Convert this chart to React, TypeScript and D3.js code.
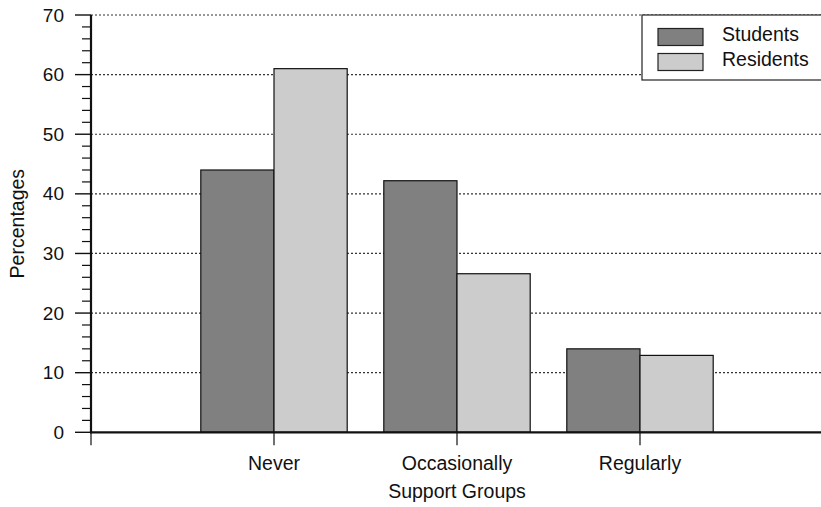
import React from "react";
import * as d3 from "d3";

const categories = ["Never", "Occasionally", "Regularly"];
const seriesNames = ["Students", "Residents"];
const students = [44.0, 42.2, 14.0];
const residents = [61.0, 26.6, 12.9];
const yTicks = [0, 10, 20, 30, 40, 50, 60, 70];
const colors = ["#808080", "#cccccc"];

const FONT = "'Liberation Sans', Arial, sans-serif";
const NARROW = "'Liberation Sans Narrow', 'Arial Narrow', sans-serif";

export default function App() {
  const W = 821, H = 507;
  const x0 = 91, x1 = 823;
  const x = d3.scaleLinear().domain([0, 4]).range([x0, x1]);
  const y = d3.scaleLinear().domain([0, 70]).range([432.3, 15]);
  const step = x(1) - x(0);
  const bw = step * 0.4;
  const minor = d3.range(0, 70, 2).filter((v) => v % 10 !== 0);
  const series = [students, residents];

  return (
    <svg width={W} height={H} style={{ position: "absolute", left: 0, top: 0, background: "#fff" }} fontFamily={FONT}>
      {/* gridlines */}
      {yTicks.filter((t) => t > 0).map((t) => (
        <line key={"g" + t} x1={x0} x2={W} y1={y(t)} y2={y(t)} stroke="#333" strokeWidth={1.2} strokeDasharray="2,2" />
      ))}
      {/* bars */}
      {series.map((vals, si) =>
        vals.map((v, ci) => {
          const cx = x(ci + 1);
          const left = si === 0 ? cx - bw : cx;
          return (
            <rect key={si + "-" + ci} x={left} y={y(v)} width={bw} height={y(0) - y(v)} fill={colors[si]} stroke="#111" strokeWidth={1.2} />
          );
        })
      )}
      {/* y axis */}
      <line x1={x0} x2={x0} y1={y(70)} y2={y(0) + 1} stroke="#111" strokeWidth={2.2} />
      {yTicks.map((t) => (
        <g key={"t" + t}>
          <line x1={75} x2={x0} y1={y(t)} y2={y(t)} stroke="#111" strokeWidth={1.4} />
          <text x={64} y={y(t)} dy="0.35em" textAnchor="end" fontSize={19} fontFamily={NARROW} fill="#111">{t}</text>
        </g>
      ))}
      {minor.map((t) => (
        <line key={"m" + t} x1={82} x2={x0} y1={y(t)} y2={y(t)} stroke="#111" strokeWidth={1.2} />
      ))}
      {/* x axis */}
      <line x1={x0 - 1} x2={W} y1={y(0)} y2={y(0)} stroke="#111" strokeWidth={2.2} />
      {[0, 1, 2, 3].map((k) => (
        <line key={"xt" + k} x1={x(k)} x2={x(k)} y1={y(0)} y2={y(0) + 13} stroke="#111" strokeWidth={1.2} />
      ))}
      {categories.map((c, i) => (
        <text key={c} x={x(i + 1)} y={470} textAnchor="middle" fontSize={19.5} fill="#111">{c}</text>
      ))}
      <text x={x(2)} y={498} textAnchor="middle" fontSize={19.5} fill="#111">Support Groups</text>
      <text transform={`translate(24,${y(35)}) rotate(-90)`} textAnchor="middle" fontSize={19.5} fill="#111">Percentages</text>
      {/* legend */}
      <rect x={642} y={15} width={185} height={65} fill="#fff" stroke="#222" strokeWidth={1.2} />
      {seriesNames.map((n, i) => (
        <g key={n}>
          <rect x={658} y={28.5 + i * 25} width={45} height={17} fill={colors[i]} stroke="#222" strokeWidth={1.2} />
          <text x={722} y={41 + i * 25} fontSize={19.5} fill="#111">{n}</text>
        </g>
      ))}
    </svg>
  );
}
